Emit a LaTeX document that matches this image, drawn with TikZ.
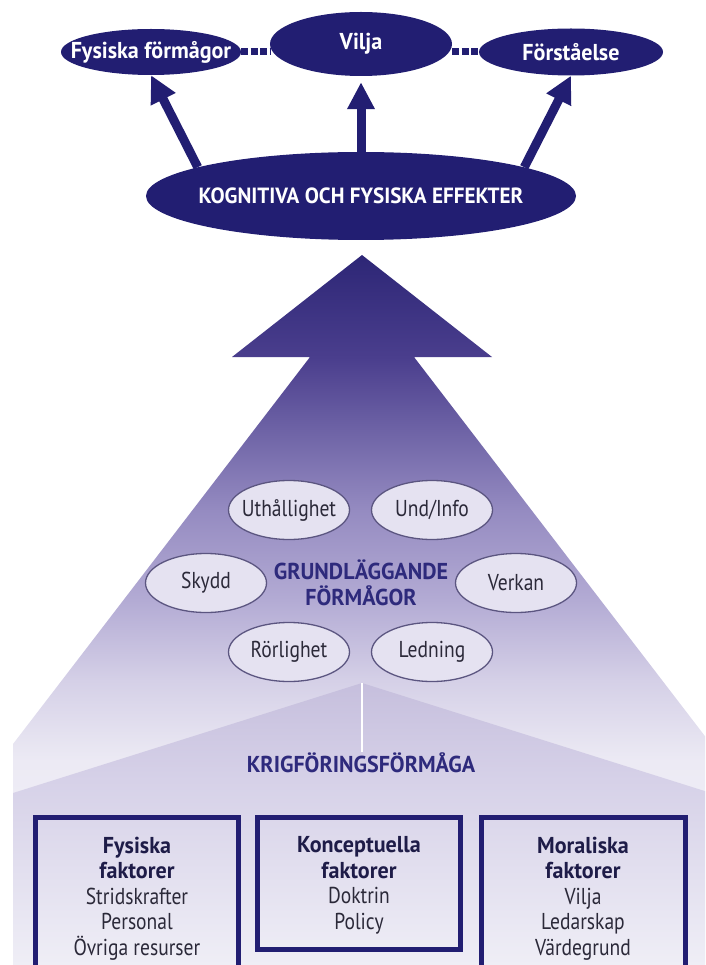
\documentclass[tikz,border=0pt]{standalone}
\usepackage{fontspec}
\setmainfont{PT Sans}[FakeStretch=0.85]
\newfontfamily\headfont{PT Sans}[FakeStretch=0.96]
\usetikzlibrary{arrows.meta,shapes.geometric}

% Colours
\definecolor{navy}{HTML}{221E72}
\definecolor{capnavy}{HTML}{2E2A7C}
\definecolor{ellfill}{HTML}{E5E2F1}
\definecolor{elldraw}{HTML}{5B5580}
\definecolor{txtgray}{HTML}{2B2939}
\definecolor{boldnavy}{HTML}{1E1C48}
% arrow gradient, top to bottom
\definecolor{sa}{HTML}{2D2676}
\definecolor{sb}{HTML}{4A3E8D}
\definecolor{sc}{HTML}{958BC1}
\definecolor{sd}{HTML}{B3ABD4}
\definecolor{se}{HTML}{D5D0E7}
\definecolor{sf}{HTML}{ECEAF4}
\definecolor{sg}{HTML}{F7F6FB}
% roof gradient
\definecolor{ra}{HTML}{C6BFDD}
\definecolor{rb}{HTML}{D6D1E8}
\definecolor{rc}{HTML}{EFEEF6}

\pgfdeclareverticalshading{arrowshade}{100bp}{color(0bp)=(sg); color(25bp)=(sg);
  color(39.4bp)=(sf); color(45bp)=(se); color(50.7bp)=(sd); color(57bp)=(sc);
  color(67.8bp)=(sb); color(75bp)=(sa); color(100bp)=(sa)}
\pgfdeclareverticalshading{roofshade}{100bp}{color(0bp)=(rc); color(25bp)=(rc);
  color(57.8bp)=(rb); color(75bp)=(ra); color(100bp)=(ra)}

\newcommand{\bt}[1]{{\headfont\bfseries\color{boldnavy}#1}}

\tikzset{
  topell/.style={ellipse, fill=navy, inner sep=0pt},
  toptxt/.style={text=white, inner sep=0pt, font=\fontsize{23}{25}\selectfont\headfont\bfseries},
  fell/.style={ellipse, fill=ellfill, draw=elldraw, line width=1.3pt,
    minimum width=121pt, minimum height=59pt, inner sep=0pt},
  felltxt/.style={text=txtgray, inner sep=0pt, font=\fontsize{23}{25}\selectfont},
  uparrow/.style={navy, line width=9pt, -{Triangle[length=27pt,width=26pt]}},
  dots/.style={navy, line width=7pt, dash pattern=on 7pt off 2.5pt},
  facbox/.style={draw=navy, line width=5pt},
  factxt/.style={align=center, text=txtgray, inner sep=0pt,
    font=\fontsize{23}{25.5}\selectfont},
  headtxt/.style={align=center, text=capnavy, inner sep=0pt,
    font=\fontsize{23}{26}\selectfont\headfont\bfseries},
}

\begin{document}
\begin{tikzpicture}[x=1pt,y=-1pt]

\useasboundingbox (0,0) rectangle (705,965);
\clip (0,0) rectangle (705,965);

% Big arrow, widening down to the bottom
\shade[shading=arrowshade] (362,255) -- (492,357) -- (414,357) -- (711,744)
  -- (711,965) -- (13,965) -- (13,744) -- (310,357) -- (232,357) -- cycle;

% Lighter roof under the capabilities
\shade[shading=roofshade] (362,683) -- (711,793) -- (711,965) -- (13,965)
  -- (13,793) -- cycle;
\draw[white, line width=1.5pt] (362,683) -- (362,752);

% Effects on top
\node[topell, minimum width=180pt, minimum height=46pt,
  label={[toptxt]center:Fysiska förmågor}] (fys) at (151,52) {};
\node[topell, minimum width=182pt, minimum height=64pt,
  label={[toptxt]center:Vilja}] (vil) at (361,44) {};
\node[topell, minimum width=184pt, minimum height=47pt,
  label={[toptxt]center:Förståelse}] (fst) at (571,52) {};
\node[topell, minimum width=430pt, minimum height=88pt,
  label={[toptxt, font=\fontsize{22}{24}\selectfont\headfont\bfseries]center:KOGNITIVA OCH FYSISKA EFFEKTER}]
  (kog) at (361,196) {};

% Dotted links between the effects
\draw[dots] (fys.east) -- (fys.east -| vil.west);
\draw[dots] (fst.west -| vil.east) -- (fst.west);

% Arrows up
\draw[uparrow] (kog.170) -- (fys.south);
\draw[uparrow, shorten >=6pt] (kog.north) -- (vil.south);
\draw[uparrow] (kog.10) -- (fst.south);

% Basic capabilities
\foreach \nm/\x/\y/\txt in {uth/289/510/Uthållighet, und/432/510/Und\slash Info,
    sky/206/583/Skydd, ver/516/583/Verkan,
    ror/289/652/Rörlighet, led/432/652/Ledning} {
  \node[fell, label={[felltxt]center:\txt}] (\nm) at (\x,\y) {};
}
\node[headtxt] (grund) at (361,583) {GRUNDLÄGGANDE\\FÖRMÅGOR};
\node[headtxt, anchor=base] (krig) at (361,772) {KRIGFÖRINGSFÖRMÅGA};

% Factor boxes
\draw[facbox] (35.5,817.5) rectangle (238.5,990);
\draw[facbox] (257.5,817.5) rectangle (460.5,949.5);
\draw[facbox] (481.5,817.5) rectangle (685.5,990);

\node[factxt, anchor=north] (fysfak) at (137,836.5)
  {\bt{Fysiska}\\\bt{faktorer}\\Stridskrafter\\Personal\\Övriga resurser};
\node[factxt, anchor=north] (konfak) at (359,836.5)
  {\bt{Konceptuella}\\\bt{faktorer}\\Doktrin\\Policy};
\node[factxt, anchor=north] (morfak) at (583,836.5)
  {\bt{Moraliska}\\\bt{faktorer}\\Vilja\\Ledarskap\\Värdegrund};

\end{tikzpicture}
\end{document}
